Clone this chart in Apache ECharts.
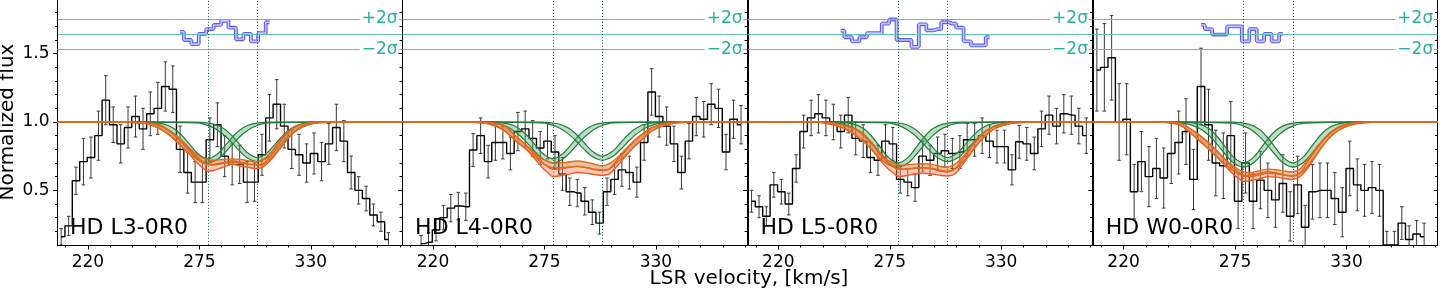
<!DOCTYPE html>
<html><head><meta charset="utf-8">
<script src="https://cdn.jsdelivr.net/npm/echarts@6/dist/echarts.min.js"></script>
<style>html,body{margin:0;padding:0;background:#fff}#c{width:1440px;height:288px}</style>
</head><body><div id="c"></div>
<script>
// ---------------- data ----------------
const PANELS = ['HD L3-0R0', 'HD L4-0R0', 'HD L5-0R0', 'HD W0-0R0'];
const X_TICKS = [220, 275, 330];
const X_MINOR = [209, 231, 242, 253, 264, 286, 297, 308, 319, 341, 352, 363, 374];
const Y_TICKS = [0.5, 1.0, 1.5];
const Y_MINOR = [0.2, 0.3, 0.4, 0.6, 0.7, 0.8, 0.9, 1.1, 1.2, 1.3, 1.4, 1.6, 1.7, 1.8];
const SIGMA_LEVELS = [1.755, 1.642, 1.529];
const SIGMA_TEXT = ['+2σ', '', '\u22122σ'];
const COMPONENT_VEL = [279.2, 303.6];

const VEL = [206.8,210.5,214.1,217.8,221.5,225.2,228.8,232.5,236.2,239.8,243.5,247.2,250.8,254.5,258.2,261.9,265.5,269.2,272.9,276.5,280.2,283.9,287.5,291.2,294.9,298.6,302.2,305.9,309.6,313.2,316.9,320.6,324.2,327.9,331.6,335.3,338.9,342.6,346.3,349.9,353.6,357.3,360.9,364.6,368.3,372.0];

const FLUX_L3 = [0.16,0.24,0.57,0.71,0.74,0.90,1.16,0.98,0.84,0.96,1.04,0.95,1.06,1.10,1.26,1.24,0.80,0.63,0.56,0.56,0.87,0.98,0.75,0.69,0.69,0.56,0.56,0.76,1.03,1.13,0.97,0.80,0.76,0.70,0.77,0.71,0.84,0.96,0.86,0.63,0.50,0.44,0.32,0.27,0.14,null];
const ERR_L3 = [0.06,0.07,0.10,0.17,0.15,0.18,0.18,0.13,0.14,0.15,0.15,0.15,0.16,0.19,0.18,0.17,0.17,0.15,0.15,0.15,0.16,0.16,0.15,0.15,0.14,0.15,0.14,0.15,0.17,0.18,0.16,0.14,0.15,0.14,0.15,0.14,0.15,0.17,0.15,0.12,0.10,0.09,0.08,0.07,0.05,null];
const FLUX_L4 = [null,null,0.11,0.12,0.21,0.30,0.37,0.385,0.38,0.795,0.90,0.71,0.85,0.85,0.77,0.93,0.95,0.88,0.81,0.86,0.78,0.62,0.49,0.48,0.42,0.34,0.26,0.49,0.58,0.65,0.63,0.56,0.85,1.22,1.04,0.97,0.84,0.63,0.86,1.04,1.02,1.13,1.10,0.78,1.02,0.98];
const ERR_L4 = [null,null,0.06,0.07,0.08,0.09,0.10,0.10,0.10,0.12,0.13,0.12,0.13,0.12,0.12,0.14,0.13,0.13,0.12,0.13,0.12,0.12,0.10,0.10,0.10,0.09,0.08,0.10,0.11,0.12,0.12,0.11,0.13,0.17,0.15,0.14,0.13,0.12,0.13,0.14,0.13,0.15,0.14,0.13,0.14,0.14];
const FLUX_L5 = [0.42,0.38,0.31,0.54,0.49,0.40,0.66,0.93,1.03,1.06,1.03,1.00,0.93,1.05,0.88,0.86,0.74,0.72,0.86,0.84,0.58,0.56,0.52,0.75,0.72,0.77,0.79,0.77,0.78,0.87,0.87,0.90,0.86,0.82,0.82,0.65,0.855,0.84,0.77,0.95,1.05,0.97,1.06,1.05,0.97,0.90];
const ERR_L5 = [0.08,0.08,0.07,0.09,0.09,0.08,0.10,0.12,0.13,0.14,0.13,0.13,0.12,0.13,0.12,0.12,0.11,0.11,0.12,0.12,0.10,0.10,0.10,0.11,0.11,0.12,0.12,0.11,0.12,0.12,0.12,0.13,0.12,0.12,0.12,0.11,0.12,0.12,0.12,0.13,0.14,0.13,0.14,0.14,0.13,0.13];
const FLUX_W0 = [1.38,1.40,1.47,1.00,1.02,0.49,0.71,0.60,0.66,0.59,0.77,0.85,0.93,0.58,1.26,0.98,0.70,0.68,0.90,0.42,0.70,0.42,0.575,0.50,0.43,0.55,0.31,0.54,0.23,0.49,0.50,0.50,0.44,0.34,0.66,0.54,0.50,0.52,0.50,0.10,0.10,0.26,0.14,0.18,0.16,null];
const ERR_W0 = [0.30,0.32,0.31,0.28,0.26,0.20,0.22,0.22,0.22,0.22,0.22,0.23,0.24,0.22,0.28,0.26,0.24,0.24,0.25,0.20,0.22,0.20,0.21,0.20,0.20,0.21,0.18,0.21,0.16,0.20,0.20,0.20,0.19,0.18,0.20,0.19,0.19,0.19,0.19,0.10,0.10,0.12,0.10,0.10,0.10,null];

const RES_L3 = [null,null,null,null,null,null,null,null,null,null,null,null,null,null,null,null,1.66,1.60,1.57,1.645,1.68,1.71,1.74,1.69,1.605,1.645,1.59,1.65,1.73,null,null,null,null,null,null,null,null,null,null,null,null,null,null,null,null,null];
const RES_L4 = [];
const RES_L5 = [null,null,null,null,null,null,null,null,null,null,null,null,1.668,1.62,1.59,1.62,1.65,1.65,1.72,1.75,1.60,1.60,1.55,1.715,1.67,1.68,1.73,1.72,1.69,1.59,1.56,1.56,1.62,null,null,null,null,null,null,null,null,null,null,null,null,null];
const RES_W0 = [null,null,null,null,null,null,null,null,null,null,null,null,null,null,1.71,1.68,1.64,1.64,1.70,1.70,1.59,1.68,1.59,1.645,1.59,1.645,null,null,null,null,null,null,null,null,null,null,null,null,null,null,null,null,null,null,null,null];

// component model curves (upper / lower edge of each band)
const GX1 = [205,249.2,257.2,262.2,266.2,270.2,274.2,279.2,284.2,288.2,292.2,296.2,301.2,309.2,375];
const GX2 = [205,273.6,281.6,286.6,290.6,294.6,298.6,303.6,308.6,312.6,316.6,320.6,325.6,333.6,375];
const L3_G1U = [1,0.999,0.986,0.955,0.905,0.836,0.769,0.73,0.769,0.836,0.905,0.955,0.986,0.999,1];
const L3_G1L = [1,0.993,0.960,0.909,0.851,0.785,0.729,0.70,0.729,0.785,0.851,0.909,0.960,0.993,1];
const L3_G2U = [1,0.999,0.987,0.956,0.908,0.842,0.777,0.74,0.777,0.842,0.908,0.956,0.987,0.999,1];
const L3_G2L = [1,0.993,0.961,0.912,0.856,0.792,0.738,0.71,0.738,0.792,0.856,0.912,0.961,0.993,1];
const L4_G1U = [1,0.999,0.986,0.955,0.905,0.836,0.769,0.73,0.769,0.836,0.905,0.955,0.986,0.999,1];
const L4_G1L = [1,0.993,0.960,0.909,0.851,0.785,0.729,0.70,0.729,0.785,0.851,0.909,0.960,0.993,1];
const L4_G2U = [1,0.999,0.987,0.958,0.912,0.848,0.786,0.75,0.786,0.848,0.912,0.958,0.987,0.999,1];
const L4_G2L = [1,0.993,0.962,0.915,0.861,0.800,0.747,0.72,0.747,0.800,0.861,0.915,0.962,0.993,1];
const L5_G1U = [1,0.999,0.985,0.950,0.894,0.818,0.743,0.70,0.743,0.818,0.894,0.950,0.985,0.999,1];
const L5_G1L = [1,0.992,0.955,0.900,0.836,0.764,0.702,0.67,0.702,0.764,0.836,0.900,0.955,0.992,1];
const L5_G2U = [1,0.999,0.987,0.956,0.908,0.842,0.777,0.74,0.777,0.842,0.908,0.956,0.987,0.999,1];
const L5_G2L = [1,0.993,0.961,0.912,0.856,0.792,0.738,0.71,0.738,0.792,0.856,0.912,0.961,0.993,1];
const W0_G1U = [1,0.999,0.985,0.950,0.894,0.818,0.743,0.70,0.743,0.818,0.894,0.950,0.985,0.999,1];
const W0_G1L = [1,0.992,0.955,0.900,0.836,0.764,0.702,0.67,0.702,0.764,0.836,0.900,0.955,0.992,1];
const W0_G2U = [1,0.999,0.985,0.950,0.894,0.818,0.743,0.70,0.743,0.818,0.894,0.950,0.985,0.999,1];
const W0_G2L = [1,0.992,0.955,0.900,0.836,0.764,0.702,0.67,0.702,0.764,0.836,0.900,0.955,0.992,1];

// total model curves
const OX = [205,240,248,255,261,266,270,274,277,279,282,286,291,296,300,303.5,307,311,315,319,323,328,335,345,375];
const L3_OAU = [1,1,.995,.98,.93,.87,.81,.76,.735,.725,.72,.725,.73,.725,.715,.71,.73,.79,.87,.93,.97,.99,1,1,1];
const L3_OAL = [1,.998,.99,.955,.895,.825,.77,.725,.70,.69,.685,.695,.705,.70,.69,.685,.69,.745,.81,.885,.94,.98,.997,1,1];
const L3_OBU = [1,1,.995,.98,.93,.87,.80,.74,.705,.69,.69,.70,.715,.705,.69,.685,.70,.77,.86,.93,.97,.99,1,1,1];
const L3_OBL = [1,.998,.99,.955,.895,.825,.765,.70,.66,.64,.645,.665,.69,.675,.665,.66,.675,.735,.81,.885,.94,.98,.997,1,1];
const L4_OAU = [1,1,.995,.975,.895,.83,.775,.73,.71,.70,.70,.705,.715,.705,.69,.68,.695,.74,.80,.86,.91,.96,.99,1,1];
const L4_OAL = [1,.998,.985,.94,.86,.80,.75,.70,.675,.665,.665,.67,.675,.665,.655,.65,.655,.705,.755,.815,.87,.935,.98,.998,1];
const L4_OBU = [1,1,.995,.975,.895,.83,.765,.705,.67,.655,.655,.665,.675,.665,.65,.645,.655,.725,.79,.855,.905,.957,.99,1,1];
const L4_OBL = [1,.998,.985,.94,.86,.80,.735,.665,.625,.60,.605,.615,.63,.625,.615,.61,.62,.68,.75,.815,.87,.935,.98,.998,1];
const L5_OAU = [1,1,.99,.965,.925,.85,.78,.72,.70,.685,.685,.69,.695,.69,.675,.67,.69,.745,.82,.89,.94,.975,.995,1,1];
const L5_OAL = [1,.998,.975,.935,.87,.80,.735,.69,.67,.655,.655,.66,.665,.66,.645,.64,.655,.705,.775,.85,.91,.96,.99,1,1];
const L5_OBU = [1,1,.99,.965,.925,.85,.775,.705,.67,.655,.655,.66,.665,.655,.64,.635,.655,.73,.81,.885,.94,.975,.995,1,1];
const L5_OBL = [1,.998,.975,.935,.87,.80,.725,.66,.625,.60,.605,.615,.625,.62,.61,.605,.62,.69,.77,.85,.91,.96,.99,1,1];
const W0_OAU = [1,.999,.99,.93,.86,.79,.73,.68,.65,.635,.63,.64,.655,.65,.64,.635,.655,.73,.81,.88,.935,.975,.995,1,1];
const W0_OAL = [1,.997,.975,.895,.815,.745,.69,.645,.62,.605,.60,.61,.625,.62,.61,.605,.62,.68,.76,.84,.905,.955,.988,1,1];
const W0_OBU = [1,.999,.99,.93,.86,.79,.725,.665,.63,.61,.61,.62,.635,.625,.61,.605,.625,.715,.80,.875,.93,.975,.995,1,1];
const W0_OBL = [1,.997,.975,.895,.815,.745,.68,.62,.585,.565,.57,.58,.60,.595,.585,.58,.60,.665,.755,.84,.905,.955,.988,1,1];

// ---------------- assembly ----------------
const FLUX = [FLUX_L3, FLUX_L4, FLUX_L5, FLUX_W0];
const ERR = [ERR_L3, ERR_L4, ERR_L5, ERR_W0];
const RES = [RES_L3, RES_L4, RES_L5, RES_W0];
const GREEN = [
  [[L3_G1U, L3_G1L], [L3_G2U, L3_G2L]],
  [[L4_G1U, L4_G1L], [L4_G2U, L4_G2L]],
  [[L5_G1U, L5_G1L], [L5_G2U, L5_G2L]],
  [[W0_G1U, W0_G1L], [W0_G2U, W0_G2L]]];
const ORANGE = [
  [[L3_OAU, L3_OAL], [L3_OBU, L3_OBL]],
  [[L4_OAU, L4_OAL], [L4_OBU, L4_OBL]],
  [[L5_OAU, L5_OAL], [L5_OBU, L5_OBL]],
  [[W0_OAU, W0_OAL], [W0_OBU, W0_OBL]]];

const FONT = 'DejaVu Sans';
const GL = [57.5, 402.6, 747.9, 1093.2], GW = 344.5, GT = -1, GH = 246;
const XMIN = 205, XMAX = 375, YMIN = 0.1, YMAX = 1.9;
const SIG_LINE = '#62c0b8', SIG_TXT = '#27b0a2', VLINE = '#24705f';

const chart = echarts.init(document.getElementById('c'));
const grids = [], xAxes = [], yAxes = [], series = [];

function band(i, xs, up, lo, fill, edge, ew, z) {
  return {
    type: 'custom', xAxisIndex: 2 * i, yAxisIndex: 4 * i, clip: true, z: z, silent: true,
    data: [[XMIN, 1]],
    renderItem: function (params, api) {
      const U = xs.map((x, k) => api.coord([x, up[k]]));
      const L = xs.map((x, k) => api.coord([x, lo[k]]));
      return { type: 'group', children: [
        { type: 'polygon', shape: { points: U.concat(L.slice().reverse()), smooth: 0.3 }, style: { fill: fill, stroke: null } },
        { type: 'polyline', shape: { points: U, smooth: 0.3 }, style: { stroke: edge, lineWidth: ew, fill: null } },
        { type: 'polyline', shape: { points: L, smooth: 0.3 }, style: { stroke: edge, lineWidth: ew, fill: null } }
      ]};
    }
  };
}

PANELS.forEach((name, i) => {
  grids.push({ left: GL[i], top: GT, width: GW, height: GH, outerBoundsMode: 'none' });
  xAxes.push({ type: 'value', gridIndex: i, min: XMIN, max: XMAX, position: 'bottom',
    axisLine: { onZero: false, lineStyle: { color: '#000', width: 1 } },
    axisTick: { customValues: X_TICKS, length: 4.5, lineStyle: { color: '#000', width: 1 } },
    axisLabel: { customValues: X_TICKS, color: '#000', fontSize: 17, fontFamily: FONT, margin: 9 },
    splitLine: { show: false } });
  xAxes.push({ type: 'value', gridIndex: i, min: XMIN, max: XMAX, position: 'bottom',
    axisLine: { show: false, onZero: false },
    axisTick: { customValues: X_MINOR, length: 2.5, lineStyle: { color: '#000', width: 1 } },
    axisLabel: { show: false }, splitLine: { show: false } });
  yAxes.push({ type: 'value', gridIndex: i, min: YMIN, max: YMAX, position: 'left',
    axisLine: { show: true, onZero: false, lineStyle: { color: '#000', width: 1 } },
    axisTick: { customValues: Y_TICKS, length: 4.5, lineStyle: { color: '#000', width: 1 } },
    axisLabel: { show: i === 0, customValues: Y_TICKS, color: '#000', fontSize: 17, fontFamily: FONT, margin: 8,
      formatter: v => Number(v).toFixed(1) },
    splitLine: { show: false } });
  yAxes.push({ type: 'value', gridIndex: i, min: YMIN, max: YMAX, position: 'left',
    axisLine: { show: false, onZero: false },
    axisTick: { customValues: Y_MINOR, length: 2.5, lineStyle: { color: '#000', width: 1 } },
    axisLabel: { show: false }, splitLine: { show: false } });
  yAxes.push({ type: 'value', gridIndex: i, min: YMIN, max: YMAX, position: 'right',
    axisLine: { show: true, onZero: false, lineStyle: { color: '#000', width: 1 } },
    axisTick: { inside: true, customValues: Y_TICKS, length: 4, lineStyle: { color: '#000', width: 1 } },
    axisLabel: { show: false }, splitLine: { show: false } });
  yAxes.push({ type: 'value', gridIndex: i, min: YMIN, max: YMAX, position: 'right',
    axisLine: { show: false, onZero: false },
    axisTick: { inside: true, customValues: Y_MINOR, length: 2.5, lineStyle: { color: '#000', width: 1 } },
    axisLabel: { show: false }, splitLine: { show: false } });

  const xi = 2 * i, yi = 4 * i;
  const pts = [], bars = [], res = [];
  VEL.forEach((v, k) => {
    const f = FLUX[i][k];
    if (f != null) { pts.push([v, f]); bars.push([v, f - ERR[i][k], f + ERR[i][k]]); }
    const r = RES[i][k];
    if (r != null) res.push([v, r]);
  });

  const mark = [];
  SIGMA_LEVELS.forEach(s => mark.push({ yAxis: s, lineStyle: { color: SIG_LINE, width: 1, type: 'solid' } }));
  COMPONENT_VEL.forEach(v => mark.push({ xAxis: v, lineStyle: { color: VLINE, width: 1, type: [1.2, 1.8] } }));

  series.push({ type: 'line', xAxisIndex: xi, yAxisIndex: yi, step: 'middle', data: pts, symbol: 'none',
    lineStyle: { color: '#000', width: 1.4 }, z: 2, silent: true, clip: true,
    markLine: { silent: true, symbol: ['none', 'none'], label: { show: false }, data: mark, animation: false } });
  series.push({ type: 'custom', xAxisIndex: xi, yAxisIndex: yi, z: 2, silent: true, clip: true, data: bars,
    encode: { x: 0, y: [1, 2] },
    renderItem: function (params, api) {
      const x = api.value(0);
      const a = api.coord([x, api.value(1)]), b = api.coord([x, api.value(2)]);
      const st = { stroke: '#3a3a3a', lineWidth: 1 };
      return { type: 'group', children: [
        { type: 'line', shape: { x1: a[0], y1: a[1], x2: b[0], y2: b[1] }, style: st },
        { type: 'line', shape: { x1: a[0] - 1.8, y1: a[1], x2: a[0] + 1.8, y2: a[1] }, style: st },
        { type: 'line', shape: { x1: b[0] - 1.8, y1: b[1], x2: b[0] + 1.8, y2: b[1] }, style: st }
      ]};
    } });
  if (res.length) {
    series.push({ type: 'line', xAxisIndex: xi, yAxisIndex: yi, step: 'middle', data: res, symbol: 'none',
      lineStyle: { color: '#5c5cf2', width: 3.8 }, z: 3, silent: true });
    series.push({ type: 'line', xAxisIndex: xi, yAxisIndex: yi, step: 'middle', data: res, symbol: 'none',
      lineStyle: { color: '#c3c6ff', width: 1.6 }, z: 3, silent: true });
  }
  series.push(band(i, GX1, GREEN[i][0][0], GREEN[i][0][1], 'rgba(80,175,105,0.40)', '#277a3e', 1.2, 4));
  series.push(band(i, GX2, GREEN[i][1][0], GREEN[i][1][1], 'rgba(80,175,105,0.40)', '#277a3e', 1.2, 4));
  series.push(band(i, OX, ORANGE[i][1][0], ORANGE[i][1][1], 'rgba(250,140,110,0.45)', '#f05a22', 1.4, 5));
  series.push(band(i, OX, ORANGE[i][0][0], ORANGE[i][0][1], 'rgba(200,120,40,0.45)', '#e2691a', 1.4, 5));
});

chart.setOption({ animation: false, backgroundColor: '#fff', grid: grids, xAxis: xAxes, yAxis: yAxes, series: series });

const graphics = [];
PANELS.forEach((name, i) => {
  const lt = chart.convertToPixel({ xAxisIndex: 2 * i, yAxisIndex: 4 * i }, [XMIN, 1]);
  const rt = chart.convertToPixel({ xAxisIndex: 2 * i, yAxisIndex: 4 * i }, [XMAX, 1]);
  SIGMA_LEVELS.forEach((s, k) => {
    if (!SIGMA_TEXT[k]) return;
    const py = chart.convertToPixel({ xAxisIndex: 2 * i, yAxisIndex: 4 * i }, [XMAX, s])[1];
    graphics.push({ type: 'text', z: 20, silent: true, style: { text: SIGMA_TEXT[k], x: rt[0] - 3.5, y: py,
      fill: SIG_TXT, fontSize: 17, fontFamily: FONT, align: 'right', verticalAlign: 'middle',
      backgroundColor: '#fff', padding: [1, 1, 1, 2] } });
  });
  graphics.push({ type: 'text', z: 20, silent: true, style: { text: name, x: lt[0] + 12.5, y: 228,
    fill: '#000', fontSize: 22, fontFamily: FONT, align: 'left', verticalAlign: 'middle' } });
});
graphics.push({ type: 'text', z: 20, silent: true, x: 7.5, y: 122, rotation: Math.PI / 2,
  style: { text: 'Normalized flux', x: 0, y: 0, fill: '#000', fontSize: 20, fontFamily: FONT, align: 'center', verticalAlign: 'middle' } });
graphics.push({ type: 'text', z: 20, silent: true, style: { text: 'LSR velocity, [km/s]', x: 749, y: 279,
  fill: '#000', fontSize: 20, fontFamily: FONT, align: 'center', verticalAlign: 'middle' } });
chart.setOption({ graphic: graphics });
</script>
</body></html>
